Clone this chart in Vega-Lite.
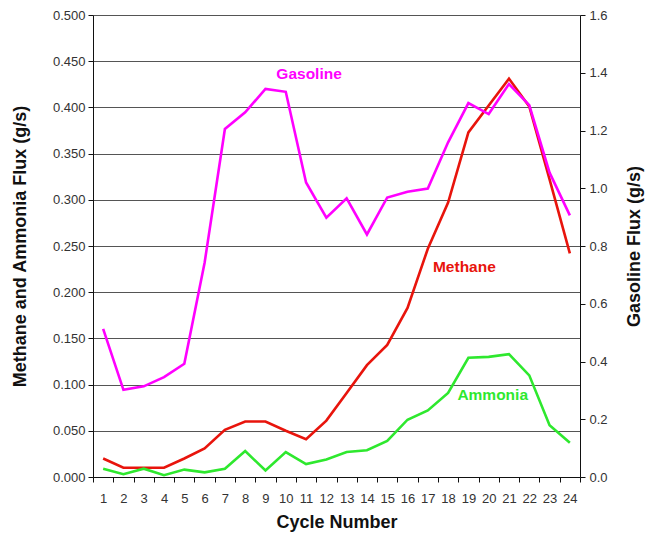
{
  "$schema": "https://vega.github.io/schema/vega-lite/v6.json",
  "width": 487,
  "height": 462,
  "autosize": {"type": "none"},
  "padding": {"left": 93, "top": 15, "right": 75, "bottom": 58},
  "background": "white",
  "config": {
    "view": {"stroke": null},
    "font": "Liberation Sans",
    "axis": {
      "labelFont": "Liberation Sans",
      "labelFontSize": 13,
      "labelColor": "#333333",
      "titleFont": "Liberation Sans",
      "titleFontSize": 18,
      "titleFontWeight": "bold",
      "titleColor": "#111111",
      "domainColor": "#111111",
      "tickColor": "#111111",
      "tickSize": 5
    }
  },
  "datasets": {
    "flux": [
      {"cycle": 1, "series": "Gasoline", "value": 0.513},
      {"cycle": 2, "series": "Gasoline", "value": 0.302},
      {"cycle": 3, "series": "Gasoline", "value": 0.314},
      {"cycle": 4, "series": "Gasoline", "value": 0.346},
      {"cycle": 5, "series": "Gasoline", "value": 0.392},
      {"cycle": 6, "series": "Gasoline", "value": 0.742},
      {"cycle": 7, "series": "Gasoline", "value": 1.205},
      {"cycle": 8, "series": "Gasoline", "value": 1.263},
      {"cycle": 9, "series": "Gasoline", "value": 1.344},
      {"cycle": 10, "series": "Gasoline", "value": 1.334},
      {"cycle": 11, "series": "Gasoline", "value": 1.02},
      {"cycle": 12, "series": "Gasoline", "value": 0.898},
      {"cycle": 13, "series": "Gasoline", "value": 0.965},
      {"cycle": 14, "series": "Gasoline", "value": 0.84},
      {"cycle": 15, "series": "Gasoline", "value": 0.968},
      {"cycle": 16, "series": "Gasoline", "value": 0.988},
      {"cycle": 17, "series": "Gasoline", "value": 0.999},
      {"cycle": 18, "series": "Gasoline", "value": 1.159},
      {"cycle": 19, "series": "Gasoline", "value": 1.295},
      {"cycle": 20, "series": "Gasoline", "value": 1.257},
      {"cycle": 21, "series": "Gasoline", "value": 1.361},
      {"cycle": 22, "series": "Gasoline", "value": 1.288},
      {"cycle": 23, "series": "Gasoline", "value": 1.054},
      {"cycle": 24, "series": "Gasoline", "value": 0.906},
      {"cycle": 1, "series": "Methane", "value": 0.020},
      {"cycle": 2, "series": "Methane", "value": 0.010},
      {"cycle": 3, "series": "Methane", "value": 0.010},
      {"cycle": 4, "series": "Methane", "value": 0.010},
      {"cycle": 5, "series": "Methane", "value": 0.020},
      {"cycle": 6, "series": "Methane", "value": 0.031},
      {"cycle": 7, "series": "Methane", "value": 0.051},
      {"cycle": 8, "series": "Methane", "value": 0.060},
      {"cycle": 9, "series": "Methane", "value": 0.060},
      {"cycle": 10, "series": "Methane", "value": 0.050},
      {"cycle": 11, "series": "Methane", "value": 0.041},
      {"cycle": 12, "series": "Methane", "value": 0.061},
      {"cycle": 13, "series": "Methane", "value": 0.091},
      {"cycle": 14, "series": "Methane", "value": 0.121},
      {"cycle": 15, "series": "Methane", "value": 0.143},
      {"cycle": 16, "series": "Methane", "value": 0.183},
      {"cycle": 17, "series": "Methane", "value": 0.247},
      {"cycle": 18, "series": "Methane", "value": 0.297},
      {"cycle": 19, "series": "Methane", "value": 0.373},
      {"cycle": 20, "series": "Methane", "value": 0.402},
      {"cycle": 21, "series": "Methane", "value": 0.431},
      {"cycle": 22, "series": "Methane", "value": 0.401},
      {"cycle": 23, "series": "Methane", "value": 0.322},
      {"cycle": 24, "series": "Methane", "value": 0.242},
      {"cycle": 1, "series": "Ammonia", "value": 0.009},
      {"cycle": 2, "series": "Ammonia", "value": 0.003},
      {"cycle": 3, "series": "Ammonia", "value": 0.009},
      {"cycle": 4, "series": "Ammonia", "value": 0.002},
      {"cycle": 5, "series": "Ammonia", "value": 0.008},
      {"cycle": 6, "series": "Ammonia", "value": 0.005},
      {"cycle": 7, "series": "Ammonia", "value": 0.009},
      {"cycle": 8, "series": "Ammonia", "value": 0.028},
      {"cycle": 9, "series": "Ammonia", "value": 0.007},
      {"cycle": 10, "series": "Ammonia", "value": 0.027},
      {"cycle": 11, "series": "Ammonia", "value": 0.014},
      {"cycle": 12, "series": "Ammonia", "value": 0.019},
      {"cycle": 13, "series": "Ammonia", "value": 0.027},
      {"cycle": 14, "series": "Ammonia", "value": 0.029},
      {"cycle": 15, "series": "Ammonia", "value": 0.039},
      {"cycle": 16, "series": "Ammonia", "value": 0.062},
      {"cycle": 17, "series": "Ammonia", "value": 0.072},
      {"cycle": 18, "series": "Ammonia", "value": 0.091},
      {"cycle": 19, "series": "Ammonia", "value": 0.129},
      {"cycle": 20, "series": "Ammonia", "value": 0.130},
      {"cycle": 21, "series": "Ammonia", "value": 0.133},
      {"cycle": 22, "series": "Ammonia", "value": 0.110},
      {"cycle": 23, "series": "Ammonia", "value": 0.056},
      {"cycle": 24, "series": "Ammonia", "value": 0.037}
    ],
    "labels": [
      {"cycle": 11, "series": "Gasoline", "value": 0.436},
      {"cycle": 19, "series": "Methane", "value": 0.227},
      {"cycle": 20, "series": "Ammonia", "value": 0.089}
    ]
  },
  "encoding": {
    "x": {
      "field": "cycle",
      "type": "ordinal",
      "bandPosition": 0.5,
      "scale": {"type": "band", "paddingInner": 0, "paddingOuter": 0, "domain": [1,2,3,4,5,6,7,8,9,10,11,12,13,14,15,16,17,18,19,20,21,22,23,24]},
      "axis": {
        "title": "Cycle Number",
        "labelAngle": 0,
        "tickBand": "extent",
        "labelPadding": 10,
        "titlePadding": 8,
        "grid": false
      }
    },
    "color": {
      "field": "series",
      "type": "nominal",
      "scale": {"domain": ["Gasoline", "Methane", "Ammonia"], "range": ["#ff00ff", "#e8140c", "#2ee82e"]},
      "legend": null
    }
  },
  "layer": [
    {
      "layer": [
        {
          "data": {"name": "flux"},
          "transform": [{"filter": "datum.series !== 'Gasoline'"}],
          "mark": {"type": "line", "strokeWidth": 2.6},
          "encoding": {
            "y": {
              "field": "value",
              "type": "quantitative",
              "scale": {"domain": [0, 0.5], "nice": false},
              "axis": {
                "title": "Methane and Ammonia Flux (g/s)",
                "values": [0, 0.05, 0.1, 0.15, 0.2, 0.25, 0.3, 0.35, 0.4, 0.45, 0.5],
                "format": ".3f",
                "grid": true,
                "gridColor": "#555555",
                "gridWidth": 1.2,
                "gridOpacity": 1,
                "labelPadding": 3,
                "titlePadding": 23
              }
            }
          }
        },
        {
          "data": {"name": "labels"},
          "transform": [{"filter": "datum.series === 'Gasoline'"}],
          "mark": {"type": "text", "fontSize": 15.5, "fontWeight": "bold", "dx": 3},
          "encoding": {
            "y": {"field": "value", "type": "quantitative"},
            "text": {"field": "series"}
          }
        },
        {
          "data": {"name": "labels"},
          "transform": [{"filter": "datum.series === 'Methane'"}],
          "mark": {"type": "text", "fontSize": 15.5, "fontWeight": "bold", "dx": -4},
          "encoding": {
            "y": {"field": "value", "type": "quantitative"},
            "text": {"field": "series"}
          }
        },
        {
          "data": {"name": "labels"},
          "transform": [{"filter": "datum.series === 'Ammonia'"}],
          "mark": {"type": "text", "fontSize": 15.5, "fontWeight": "bold", "dx": 4},
          "encoding": {
            "y": {"field": "value", "type": "quantitative"},
            "text": {"field": "series"}
          }
        }
      ]
    },
    {
      "data": {"name": "flux"},
      "transform": [{"filter": "datum.series === 'Gasoline'"}],
      "mark": {"type": "line", "strokeWidth": 2.6},
      "encoding": {
        "y": {
          "field": "value",
          "type": "quantitative",
          "scale": {"domain": [0, 1.6], "nice": false},
          "axis": {
            "orient": "right",
            "title": "Gasoline Flux (g/s)",
            "titleAngle": -90,
            "values": [0, 0.2, 0.4, 0.6, 0.8, 1.0, 1.2, 1.4, 1.6],
            "format": ".1f",
            "grid": false,
            "labelPadding": 4,
            "titlePadding": 36
          }
        }
      }
    }
  ],
  "resolve": {"scale": {"y": "independent"}}
}
